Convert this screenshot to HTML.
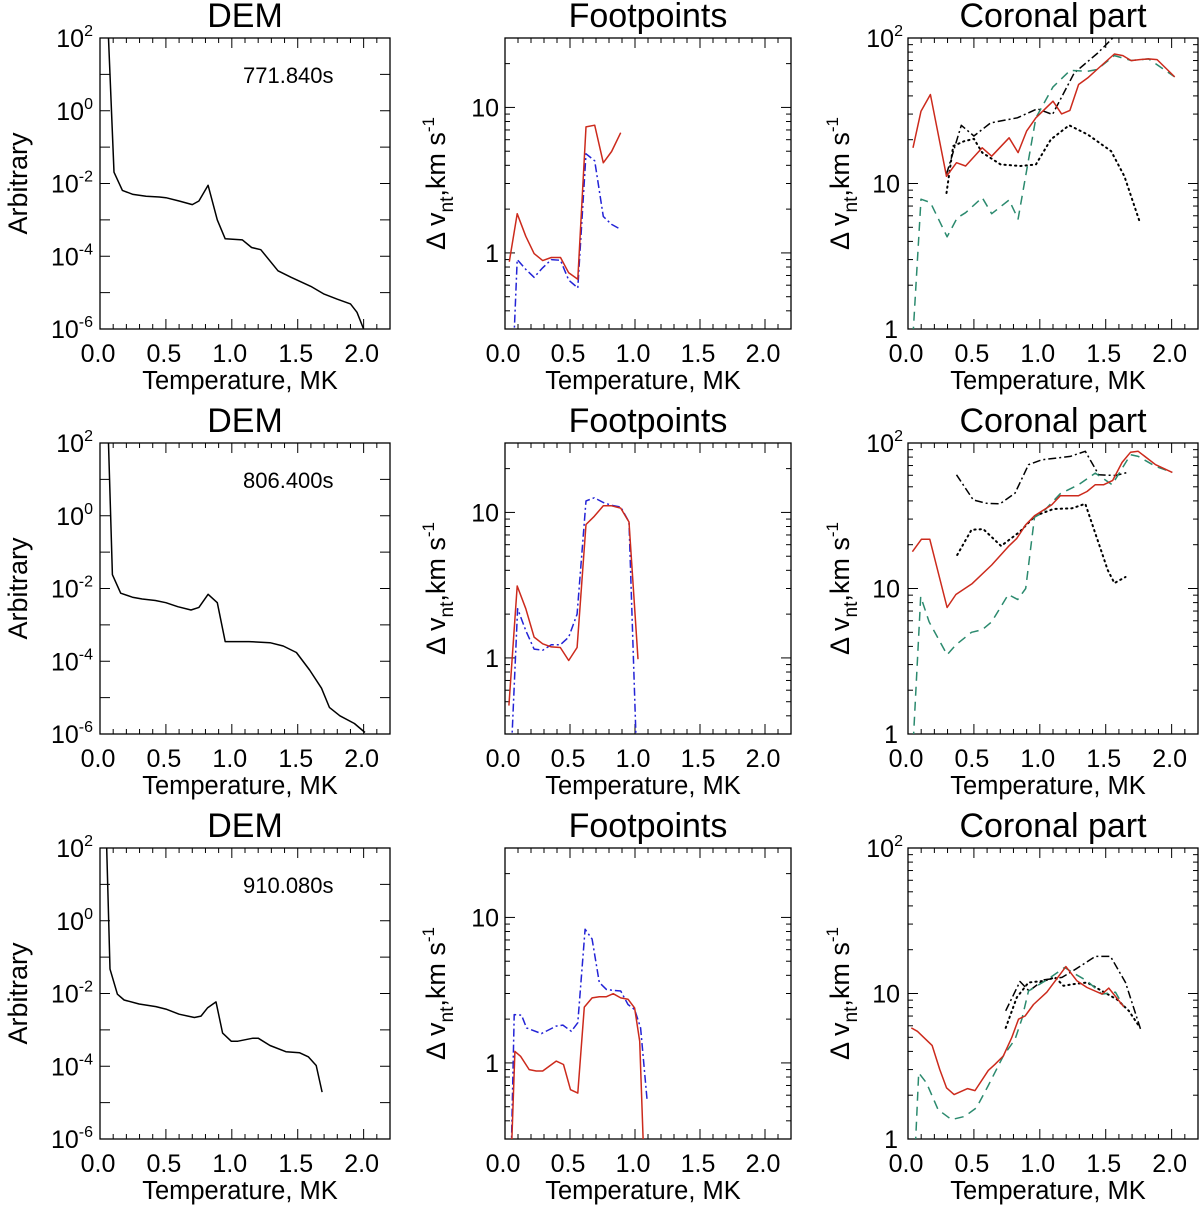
<!DOCTYPE html>
<html><head><meta charset="utf-8"><style>
html,body{margin:0;padding:0;background:#fff;}
svg{display:block;font-family:"Liberation Sans",Arial,sans-serif;}
</style></head><body>
<svg id="fig" width="1200" height="1206" viewBox="0 0 1200 1206" xmlns="http://www.w3.org/2000/svg"></svg>
<script>
// ---------- DATA ----------
const demT1 = [0.053,0.106,0.17,0.25,0.35,0.45,0.5,0.6,0.7,0.75,0.82,0.89,0.95,1.08,1.15,1.22,1.35,1.45,1.6,1.7,1.8,1.9,1.95,2.0];
const demLog1 = [3,-1.69,-2.19,-2.3,-2.35,-2.37,-2.39,-2.48,-2.58,-2.48,-2.05,-3.0,-3.52,-3.55,-3.76,-3.82,-4.4,-4.58,-4.83,-5.04,-5.18,-5.31,-5.54,-6.0];
const demT2 = [0.056,0.094,0.157,0.246,0.32,0.42,0.5,0.59,0.69,0.75,0.82,0.89,0.95,1.13,1.29,1.39,1.49,1.59,1.68,1.74,1.82,1.93,2.01];
const demLog2 = [3,-1.62,-2.13,-2.24,-2.29,-2.33,-2.39,-2.5,-2.59,-2.52,-2.16,-2.39,-3.46,-3.46,-3.49,-3.58,-3.76,-4.24,-4.74,-5.27,-5.5,-5.71,-5.96];
const demT3 = [0.043,0.076,0.132,0.183,0.297,0.424,0.5,0.6,0.716,0.766,0.817,0.88,0.93,0.995,1.046,1.16,1.2,1.29,1.41,1.515,1.58,1.64,1.685];
const demLog3 = [3,-1.33,-2.02,-2.18,-2.29,-2.36,-2.43,-2.57,-2.66,-2.62,-2.39,-2.23,-3.09,-3.31,-3.31,-3.23,-3.23,-3.43,-3.6,-3.63,-3.74,-3.98,-4.71];
const timeLabels = ["771.840s","806.400s","910.080s"];

const fpRedT1 = [0.033,0.094,0.16,0.224,0.29,0.356,0.427,0.49,0.56,0.623,0.69,0.756,0.82,0.89];
const fpRedV1 = [0.87,1.86,1.30,0.99,0.885,0.93,0.93,0.73,0.66,7.35,7.55,4.16,4.98,6.7];
const fpBlueT1 = [0.064,0.094,0.16,0.224,0.29,0.356,0.427,0.49,0.56,0.623,0.69,0.756,0.82,0.89];
const fpBlueV1 = [0.2,0.9,0.77,0.68,0.79,0.9,0.89,0.65,0.575,4.8,4.3,1.78,1.57,1.45];
const fpRedT2 = [0.03,0.094,0.16,0.224,0.29,0.356,0.425,0.49,0.555,0.623,0.687,0.756,0.82,0.89,0.954,1.023];
const fpRedV2 = [0.47,3.12,2.18,1.39,1.25,1.19,1.18,0.96,1.18,8.26,9.4,11.1,11.1,10.7,8.6,0.98];
const fpBlueT2 = [0.046,0.097,0.16,0.224,0.29,0.356,0.425,0.49,0.555,0.623,0.687,0.756,0.82,0.89,0.954,1.013];
const fpBlueV2 = [0.2,2.18,1.54,1.15,1.13,1.23,1.23,1.39,2.0,12.0,12.6,11.7,11.2,10.9,8.6,0.2];
const fpRedT3 = [0.046,0.076,0.12,0.186,0.24,0.29,0.394,0.45,0.504,0.56,0.61,0.67,0.725,0.78,0.832,0.89,0.946,0.997,1.036,1.069];
const fpRedV3 = [0.2,1.2,1.11,0.9,0.88,0.88,1.03,0.975,0.655,0.62,2.42,2.8,2.85,2.85,2.99,2.8,2.74,2.39,1.41,0.2];
const fpBlueT3 = [0.046,0.071,0.127,0.165,0.28,0.394,0.445,0.51,0.56,0.616,0.67,0.725,0.78,0.832,0.89,0.946,0.997,1.043,1.094];
const fpBlueV3 = [0.2,2.15,2.13,1.74,1.59,1.79,1.82,1.65,1.89,8.3,7.1,3.57,3.2,3.15,3.12,2.52,2.33,1.74,0.545];

const crRedT1 = [0.038,0.099,0.17,0.292,0.368,0.437,0.563,0.635,0.767,0.835,0.9,0.97,1.1,1.165,1.228,1.294,1.363,1.434,1.566,1.63,1.693,1.756,1.825,1.89,2.023];
const crRedV1 = [17.6,31.4,40.9,11.2,13.9,13.2,17.6,15.4,20.6,16.3,22.9,28.3,36.8,30.1,31.8,47.9,53.2,60.7,77.6,75.7,69.9,71,71.8,71,54];
const crGrnT1 = [0.038,0.099,0.17,0.297,0.373,0.437,0.563,0.635,0.767,0.835,0.97,1.1,1.231,1.363,1.434,1.566,1.693,1.825,2.023];
const crGrnV1 = [0.9,7.8,7.4,4.3,5.8,6.3,8.0,6.2,7.7,5.7,28.3,46.1,60,59,60.7,75.7,70,71.8,54];
const crDdT1 = [0.292,0.404,0.5,0.627,0.83,0.982,1.096,1.261,1.44,1.62];
const crDdV1 = [11.6,25.1,21.2,26.1,28.3,32.6,29.8,57.5,78.9,115];
const crDotT1 = [0.292,0.343,0.424,0.5,0.563,0.703,0.855,0.97,1.084,1.223,1.363,1.541,1.642,1.756];
const crDotV1 = [8.6,18.1,19.5,20.3,16.3,13.5,13.2,13.5,20.1,25.1,21.7,16.7,11.2,5.5];
const crRedT2 = [0.033,0.102,0.165,0.297,0.363,0.487,0.635,0.761,0.825,0.893,0.96,1.091,1.155,1.294,1.358,1.421,1.485,1.553,1.624,1.688,1.746,1.878,2.005];
const crRedV2 = [17.9,21.8,21.8,7.4,9.1,10.8,14.5,19.4,22.1,27.4,31.6,37.6,43.4,43.4,46.4,51.7,51.7,55.3,73.6,86.3,87.7,70.9,62.8];
const crGrnT2 = [0.04,0.096,0.16,0.297,0.363,0.482,0.563,0.635,0.761,0.832,0.893,0.96,1.015,1.155,1.294,1.421,1.548,1.688,1.746,1.878,2.005];
const crGrnV2 = [0.9,8.8,5.9,3.5,4.1,5.0,5.2,5.9,9.1,8.4,10,30.9,32.9,44.8,51.7,62.1,51.7,83.1,80.9,69,62.8];
const crDdT2 = [0.368,0.495,0.596,0.698,0.812,0.914,1.015,1.231,1.345,1.447,1.574,1.667];
const crDdV2 = [60.5,40.6,38.5,38.2,45.2,70.9,76.7,80.9,87.7,60.5,59.8,62.8];
const crDotT2 = [0.373,0.482,0.571,0.706,0.85,0.964,1.104,1.244,1.345,1.442,1.515,1.566,1.65];
const crDotV2 = [17.0,25.3,25.6,19.6,24.6,31.6,35.2,35.6,38.2,21,13.4,10.9,12.0];
const crRedT3 = [0.025,0.071,0.183,0.241,0.292,0.35,0.452,0.508,0.609,0.66,0.723,0.787,0.838,0.888,0.952,1.053,1.198,1.282,1.358,1.472,1.523,1.637];
const crRedV3 = [5.8,5.5,4.4,3.0,2.25,2.02,2.22,2.15,2.96,3.26,3.72,4.97,6.66,7.0,8.4,10.2,15.3,12.2,11.0,9.9,10.9,8.1];
const crGrnT3 = [0.056,0.081,0.14,0.228,0.33,0.431,0.52,0.609,0.723,0.812,0.863,0.914,1.053,1.188,1.269,1.358,1.472,1.574,1.637];
const crGrnV3 = [0.9,2.85,2.43,1.59,1.36,1.43,1.64,2.33,3.72,4.84,6.66,10.4,12.4,15.1,13.6,12.2,9.9,10.2,8.1];
const crDdT3 = [0.741,0.85,0.919,1.028,1.168,1.282,1.421,1.536,1.65,1.764];
const crDdV3 = [7.6,12.1,10.4,12.4,12.9,14.9,18.0,18.0,11.9,5.7];
const crDotT3 = [0.741,0.825,0.914,1.028,1.117,1.18,1.256,1.358,1.472,1.586,1.675,1.751];
const crDotV3 = [5.8,9.4,11.9,12.2,12.9,11.3,11.6,11.9,10.4,9.1,7.6,6.0];

const xTicks = [0.0,0.5,1.0,1.5,2.0];
const xTickLabels = ["0.0","0.5","1.0","1.5","2.0"];

// ---------- DRAWING ----------
const NS = "http://www.w3.org/2000/svg";
const svg = document.getElementById("fig");
function mk(tag, attrs, parent){ const e=document.createElementNS(NS,tag); for(const k in attrs) e.setAttribute(k,attrs[k]); (parent||svg).appendChild(e); return e; }

const colX = [100, 505, 908];
const colW = [290, 286, 290];
const rowY = [38, 443, 848];
const H = 291;
const RED="#cc2a1c", BLUE="#2323d6", GRN="#2b8a6e";

function makePanel(ci, ri, yMin, yMax){
  const x0=colX[ci], w=colW[ci], y0=rowY[ri];
  const lmin=Math.log10(yMin), lmax=Math.log10(yMax);
  return {x0,w,y0,
    sx: t => x0 + t/2.2*w,
    sy: v => y0 + H - (Math.log10(v)-lmin)/(lmax-lmin)*H,
    syl: l => y0 + H - (l-lmin)/(lmax-lmin)*H};
}

let clipId=0;
function drawFrame(p, name){
  const g = mk("g",{});
  
  
  for(let i=0;i<=22;i++){
    const t=i/10, x=p.sx(t), L=(i%5===0)?10:5;
    mk("line",{x1:x,x2:x,y1:p.y0+H,y2:p.y0+H-L,stroke:"#000","stroke-width":1},g);
    mk("line",{x1:x,x2:x,y1:p.y0,y2:p.y0+L,stroke:"#000","stroke-width":1},g);
  }
  xTicks.forEach((t,i)=>{
    const tx=mk("text",{x:p.sx(t)-2,y:p.y0+H+33,"font-size":25,"text-anchor":"middle"},g);
    
    
    tx.textContent=xTickLabels[i];
  });
  const xt=mk("text",{x:p.x0+p.w/2-5,y:p.y0+H+60,"font-size":25.5,"text-anchor":"middle"},g);
  
  
  xt.textContent="Temperature, MK";
  mk("rect",{x:p.x0,y:p.y0,width:p.w,height:H,fill:"none",stroke:"#000","stroke-width":1.3},g);
  return g;
}
function yTick(p,g,y,L){
  mk("line",{x1:p.x0,x2:p.x0+L,y1:y,y2:y,stroke:"#000","stroke-width":1},g);
  mk("line",{x1:p.x0+p.w,x2:p.x0+p.w-L,y1:y,y2:y,stroke:"#000","stroke-width":1},g);
}
function logMinor(p,g,yMin,yMax){
  for(let d=Math.floor(Math.log10(yMin));d<=Math.ceil(Math.log10(yMax));d++){
    for(let m=1;m<10;m++){
      const v=m*Math.pow(10,d);
      if(v<yMin*0.999||v>yMax*1.001) continue;
      yTick(p,g,p.sy(v),m===1?10:5);
    }
  }
}
function yLabel(g,x,y,base,sup){
  const t=mk("text",{x:x,y:y,"font-size":25,"text-anchor":"end"},g);
  
  
  t.appendChild(document.createTextNode(base));
  if(sup!==undefined){ const s=mk("tspan",{"font-size":16,dy:-11},t); s.textContent=sup; }
}
function title(p,text){
  const t=mk("text",{x:p.x0+p.w/2,y:p.y0-11,"font-size":34,"text-anchor":"middle"});
  
  
  t.textContent=text;
}
function series(p,T,V,color,dash,name,isLog){
  const cid="c"+(clipId++);
  const cp=mk("clipPath",{id:cid}); mk("rect",{x:p.x0,y:p.y0,width:p.w,height:H},cp);
  const pts=T.map((t,i)=>p.sx(t).toFixed(1)+","+(isLog?p.syl(V[i]):p.sy(V[i])).toFixed(1)).join(" ");
  const a={points:pts,fill:"none",stroke:color,"stroke-width":1.5,"clip-path":"url(#"+cid+")","stroke-linejoin":"round"};
  if(dash){ a["stroke-dasharray"]=dash; }
  if(dash==="1.3,4"){ a["stroke-linecap"]="round"; a["stroke-width"]=2; }
  const pl=mk("polyline",a);
  
  
}
function yTitleRot(x,y,parts,name){
  const t=mk("text",{x:0,y:0,"font-size":27,"text-anchor":"middle",transform:"translate("+x+","+y+") rotate(-90)"});
  
  
  if(typeof parts==="string"){ t.textContent=parts; return; }
  const a=mk("tspan",{},t); a.textContent="Δ v";
  const b=mk("tspan",{"font-size":19,dy:8},t); b.textContent="nt";
  const c=mk("tspan",{dy:-8},t); c.textContent=",km s";
  const d=mk("tspan",{"font-size":17,dy:-11},t); d.textContent="-1";
}

const DEMT=[demT1,demT2,demT3], DEML=[demLog1,demLog2,demLog3];
const FP=[[fpRedT1,fpRedV1,fpBlueT1,fpBlueV1],[fpRedT2,fpRedV2,fpBlueT2,fpBlueV2],[fpRedT3,fpRedV3,fpBlueT3,fpBlueV3]];
const CR=[[crRedT1,crRedV1,crGrnT1,crGrnV1,crDdT1,crDdV1,crDotT1,crDotV1],
          [crRedT2,crRedV2,crGrnT2,crGrnV2,crDdT2,crDdV2,crDotT2,crDotV2],
          [crRedT3,crRedV3,crGrnT3,crGrnV3,crDdT3,crDdV3,crDotT3,crDotV3]];

for(let r=0;r<3;r++){
  let p=makePanel(0,r,1e-6,1e2);
  let g=drawFrame(p,"dem-panel-"+(r+1));
  for(let d=-6;d<=2;d++) yTick(p,g,p.syl(d),10);
  [2,0,-2,-4,-6].forEach(d=>yLabel(g,93,p.syl(d)+9,"10",String(d)));
  title(p,"DEM");
  yTitleRot(27,p.y0+H/2,"Arbitrary","y-axis-title");
  series(p,DEMT[r],DEML[r],"#000",null,"dem-curve",true);
  const tl=mk("text",{x:243,y:p.y0+45,"font-size":22});
  
  
  tl.textContent=timeLabels[r];

  p=makePanel(1,r,0.3,30);
  g=drawFrame(p,"footpoints-panel-"+(r+1));
  logMinor(p,g,0.3,30);
  yLabel(g,499,p.sy(10)+9,"10"); yLabel(g,499,p.sy(1)+9,"1");
  title(p,"Footpoints");
  yTitleRot(445,p.y0+H/2,null,"y-axis-title");
  const f=FP[r];
  series(p,f[2],f[3],BLUE,"8,3,2,3","blue-dashdot-line");
  series(p,f[0],f[1],RED,null,"red-solid-line");

  p=makePanel(2,r,1,100);
  g=drawFrame(p,"coronal-panel-"+(r+1));
  logMinor(p,g,1,100);
  yLabel(g,903,p.sy(100)+9,"10","2"); yLabel(g,900,p.sy(10)+9,"10"); yLabel(g,898,p.sy(1)+9,"1");
  title(p,"Coronal part");
  yTitleRot(849,p.y0+H/2,null,"y-axis-title");
  const c=CR[r];
  series(p,c[6],c[7],"#000","1.3,4","black-dotted-line");
  series(p,c[4],c[5],"#000","8,3,2,3","black-dashdot-line");
  series(p,c[2],c[3],GRN,"9,6","green-dashed-line");
  series(p,c[0],c[1],RED,null,"red-solid-line");
}
</script>
</body></html>
